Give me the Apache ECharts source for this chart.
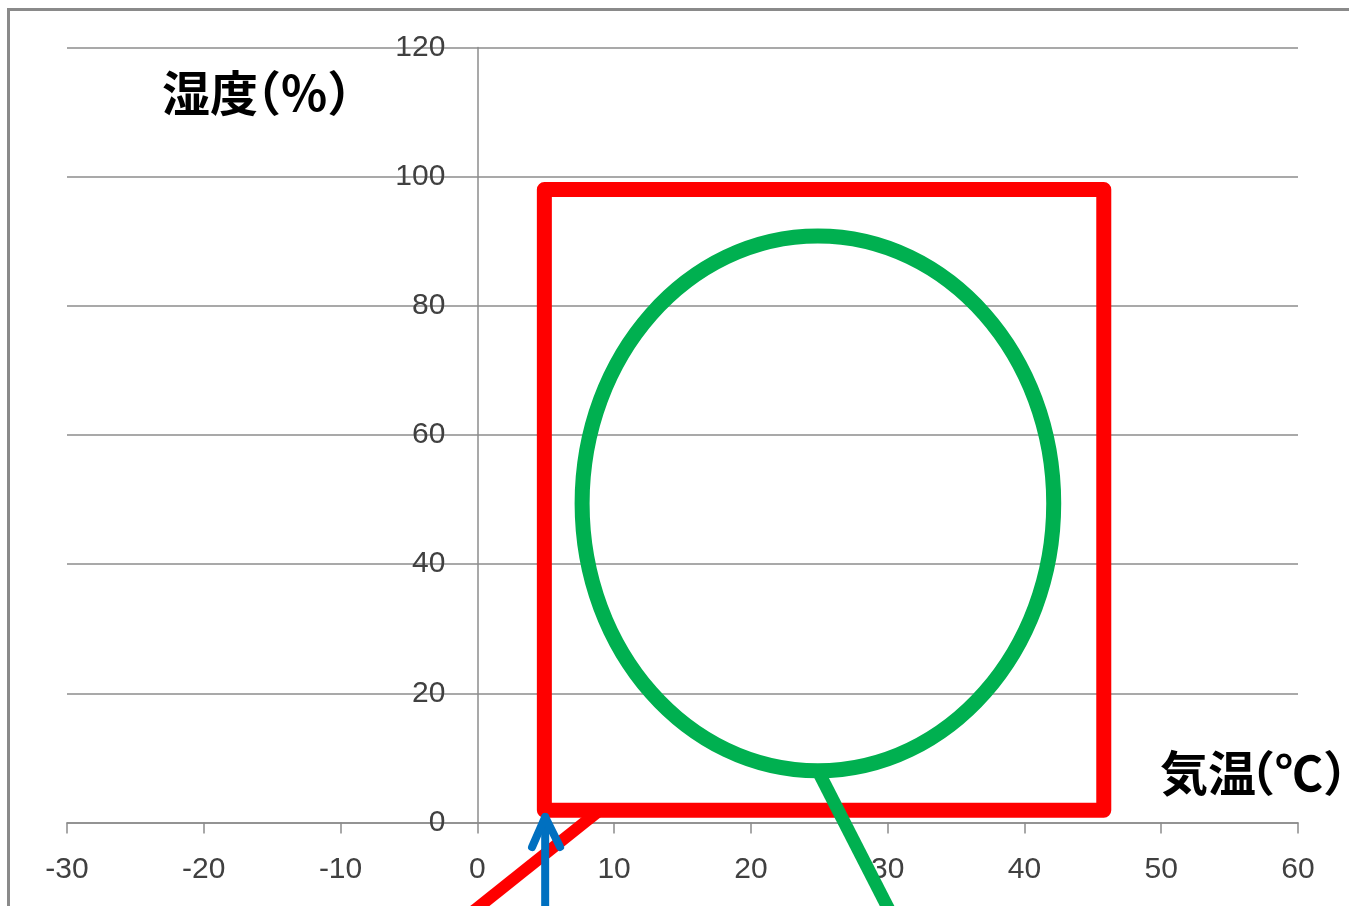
<!DOCTYPE html>
<html>
<head>
<meta charset="utf-8">
<script src="https://cdn.jsdelivr.net/npm/echarts@6/dist/echarts.min.js"></script>
<style>
html,body{margin:0;padding:0;background:#fff;}
#chart{width:1349px;height:906px;}
</style>
</head>
<body>
<div id="chart"></div>
<script>
// Axis ranges / ticks
const xTicks = [-30, -20, -10, 0, 10, 20, 30, 40, 50, 60];
const yTicks = [0, 20, 40, 60, 80, 100, 120];
const yTitleParts = ['湿度', '（', '%', '）'];   // 湿度（%）
const xTitleParts = ['気温', '（', '℃', '）'];   // 気温（℃）

// Shapes drawn over the chart (data coordinates: [temperature, humidity])
const redRect = [[4.9, 1.9], [45.8, 1.9], [45.8, 98], [4.9, 98], [4.9, 1.9]];
const redPointer = [[8.9, 1.8], [-8.5, -27.6]];
const greenEllipse = [[24.9, 49.4, 17.24, 41.4]]; // cx, cy, rx, ry
const greenPointer = [[24.9, 8.0], [35.0, -33.8]];
const blueShaft = [[4.96, -30], [4.96, 0.85]];
const blueHead = [[4.0, -3.8], [4.96, 0.85], [6.05, -3.8]];

const chart = echarts.init(document.getElementById('chart'));
const labelColor = '#404040';
const lineGray = '#8c8c8c';

const gridLeft = 67, gridRight = 51;
const plotW = 1349 - gridLeft - gridRight;
const xMin = xTicks[0], xMax = xTicks[xTicks.length - 1];
const yAxisOffset = -plotW * (0 - xMin) / (xMax - xMin); // put y axis at x = 0

const titleFont = { fontSize: 48, fontWeight: 'bold', fontFamily: 'Noto Sans CJK JP', fill: '#000' };
function titleText(parts, x, y, firstW) {
  return {
    type: 'text', x: x, y: y, z: 100, silent: true,
    style: {
      text: '{a|' + parts[0] + '}{l|' + parts[1] + '}{b|' + parts[2] + '}{r|' + parts[3] + '}',
      verticalAlign: 'middle', align: 'left',
      rich: {
        a: Object.assign({ width: firstW }, titleFont),
        l: titleFont, b: titleFont, r: titleFont
      }
    }
  };
}

const option = {
  animation: false,
  backgroundColor: '#ffffff',
  grid: { left: gridLeft, right: gridRight, top: 47.5, bottom: 83.5, containLabel: false, outerBoundsMode: 'none' },
  xAxis: {
    type: 'value',
    min: xMin, max: xMax, interval: 10,
    axisLine: { show: true, onZero: false, lineStyle: { color: lineGray, width: 1.5 } },
    axisTick: { show: true, length: 11, lineStyle: { color: lineGray, width: 1.5 } },
    axisLabel: { color: labelColor, fontSize: 30, fontFamily: 'Liberation Sans', margin: 32 },
    splitLine: { show: false }
  },
  yAxis: {
    type: 'value',
    min: yTicks[0], max: yTicks[yTicks.length - 1], interval: 20,
    offset: yAxisOffset,
    axisLine: { show: true, onZero: false, lineStyle: { color: lineGray, width: 1.5 } },
    axisTick: { show: false },
    axisLabel: { color: labelColor, fontSize: 30, fontFamily: 'Liberation Sans', margin: 32 },
    splitLine: { show: true, lineStyle: { color: lineGray, width: 1.5 } }
  },
  graphic: [
    { type: 'rect', shape: { x: 8.5, y: 9.5, width: 2000, height: 2000 },
      style: { fill: 'none', stroke: '#8a8a8a', lineWidth: 3 }, z: -1, silent: true },
    titleText(yTitleParts, 162, 93, 71),
    titleText(xTitleParts, 1160, 773, 67)
  ],
  series: [
    { type: 'line', data: redRect, symbol: 'none', clip: false, z: 10,
      lineStyle: { color: '#ff0000', width: 15, cap: 'round', join: 'round' } },
    { type: 'line', data: redPointer, symbol: 'none', clip: false, z: 10,
      lineStyle: { color: '#ff0000', width: 12, cap: 'butt' } },
    { type: 'custom', data: greenEllipse, clip: false, z: 11,
      renderItem: function (params, api) {
        const c = api.coord([api.value(0), api.value(1)]);
        const s = api.size([api.value(2), api.value(3)]);
        return { type: 'ellipse', shape: { cx: c[0], cy: c[1], rx: s[0], ry: s[1] },
          style: { fill: 'none', stroke: '#00b050', lineWidth: 15 } };
      } },
    { type: 'line', data: greenPointer, symbol: 'none', clip: false, z: 12,
      lineStyle: { color: '#00b050', width: 13, cap: 'butt' } },
    { type: 'line', data: blueShaft, symbol: 'none', clip: false, z: 13,
      lineStyle: { color: '#0070c0', width: 8, cap: 'round' } },
    { type: 'line', data: blueHead, symbol: 'none', clip: false, z: 13,
      lineStyle: { color: '#0070c0', width: 8, cap: 'round', join: 'round' } }
  ]
};
chart.setOption(option);
</script>
</body>
</html>
